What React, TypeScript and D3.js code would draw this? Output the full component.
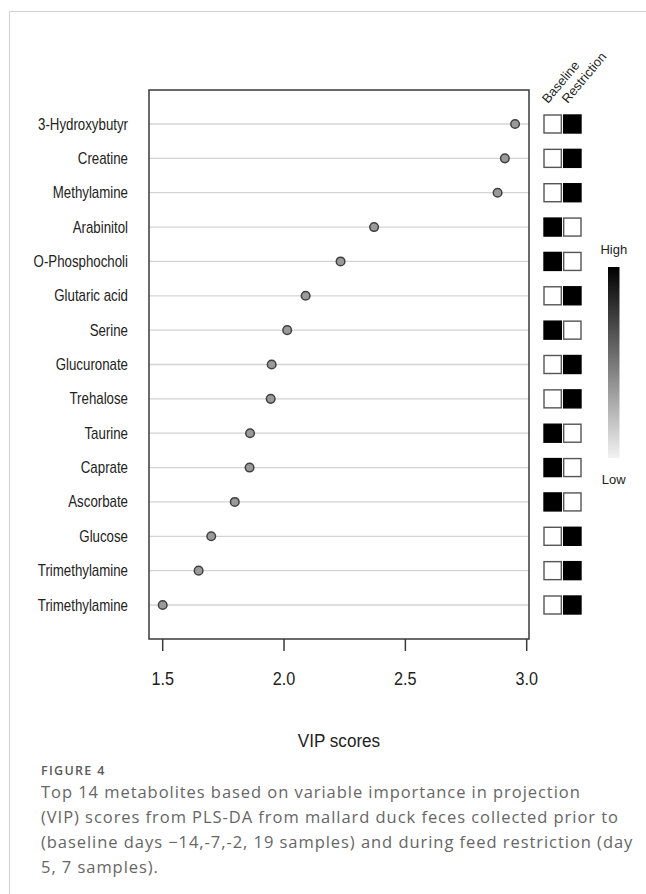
import React from "react";
import * as d3 from "d3";

// metabolites, top to bottom
const metabolites = [
  "3-Hydroxybutyr",
  "Creatine",
  "Methylamine",
  "Arabinitol",
  "O-Phosphocholi",
  "Glutaric acid",
  "Serine",
  "Glucuronate",
  "Trehalose",
  "Taurine",
  "Caprate",
  "Ascorbate",
  "Glucose",
  "Trimethylamine",
  "Trimethylamine",
];
const vipScores = [2.952, 2.91, 2.88, 2.371, 2.233, 2.089, 2.013, 1.949, 1.945, 1.86, 1.858, 1.797, 1.7, 1.648, 1.5];
// 1 = high (black), 0 = low (white)
const baselineLevel = [0, 0, 0, 1, 1, 0, 1, 0, 0, 1, 1, 1, 0, 0, 0];
const restrictionLevel = [1, 1, 1, 0, 0, 1, 0, 1, 1, 0, 0, 0, 1, 1, 1];
const groups = ["Baseline", "Restriction"];
const xTicks = [1.5, 2.0, 2.5, 3.0];

const captionLines = [
  "Top 14 metabolites based on variable importance in projection",
  "(VIP) scores from PLS-DA from mallard duck feces collected prior to",
  "(baseline days \u221214,-7,-2, 19 samples) and during feed restriction (day",
  "5, 7 samples).",
];

const W = 646;
const H = 894;
const panel = { left: 149, right: 529, top: 90, bottom: 639 };

export default function App() {
  const x = d3.scaleLinear().domain([1.5, 3.0]).range([162.7, 526.7]);
  const y = d3
    .scalePoint<number>()
    .domain(d3.range(metabolites.length))
    .range([124, 605]);
  const gx = d3.scaleBand().domain(groups).range([544, 581]).paddingInner(0.12);
  const shade = d3.scaleLinear<string>().domain([0, 1]).range(["#ffffff", "#000000"]);
  const levels = [baselineLevel, restrictionLevel];
  const boxH = 18;

  const cbar = { x: 608, w: 11.5, top: 267, bottom: 458 };

  return (
    <svg
      width={W}
      height={H}
      style={{ position: "absolute", left: 0, top: 0, background: "#fff" }}
      fontFamily="'Liberation Sans', Arial, sans-serif"
    >
      <defs>
        <linearGradient id="hl" x1="0" y1="0" x2="0" y2="1">
          <stop offset="0%" stopColor="#000" />
          <stop offset="50%" stopColor="#777" />
          <stop offset="100%" stopColor="#f2f2f2" />
        </linearGradient>
      </defs>

      {/* card border */}
      <line x1={9.5} x2={W} y1={11.5} y2={11.5} stroke="#cfcfcf" />
      <line x1={9.5} x2={9.5} y1={11.5} y2={H} stroke="#cfcfcf" />

      {/* grid lines */}
      {metabolites.map((m, i) => (
        <line
          key={"g" + i}
          x1={panel.left}
          x2={panel.right}
          y1={y(i)}
          y2={y(i)}
          stroke="#d4d4d4"
          strokeWidth={1.3}
        />
      ))}

      {/* panel box */}
      <rect
        x={panel.left}
        y={panel.top}
        width={panel.right - panel.left}
        height={panel.bottom - panel.top}
        fill="none"
        stroke="#3a3a3a"
        strokeWidth={1.5}
      />

      {/* dots */}
      {vipScores.map((v, i) => (
        <circle key={"d" + i} cx={x(v)} cy={y(i)} r={4.3} fill="#9a9a9a" stroke="#404040" strokeWidth={1.5} />
      ))}

      {/* y labels */}
      {metabolites.map((m, i) => (
        <text
          key={"l" + i}
          transform={`translate(128,${y(i)! + 5.5}) scale(0.83,1)`}
          textAnchor="end"
          fontSize={16}
          fill="#222"
        >
          {m}
        </text>
      ))}

      {/* x axis */}
      {xTicks.map((t) => (
        <g key={"t" + t}>
          <line x1={x(t)} x2={x(t)} y1={panel.bottom} y2={panel.bottom + 12} stroke="#3a3a3a" strokeWidth={1.5} />
          <text
            transform={`translate(${x(t)},685) scale(0.9,1)`}
            textAnchor="middle"
            fontSize={18}
            fill="#222"
          >
            {d3.format(".1f")(t)}
          </text>
        </g>
      ))}
      <text
        transform={`translate(${(panel.left + panel.right) / 2},747) scale(0.9,1)`}
        textAnchor="middle"
        fontSize={19}
        fill="#222"
      >
        VIP scores
      </text>

      {/* group boxes */}
      {groups.map((g, gi) =>
        levels[gi].map((lv, i) => (
          <rect
            key={g + i}
            x={gx(g)!}
            y={y(i)! - boxH / 2}
            width={gx.bandwidth()}
            height={boxH}
            fill={shade(lv)}
            stroke={lv ? "#000" : "#555"}
            strokeWidth={1.4}
          />
        ))
      )}
      {groups.map((g) => (
        <text
          key={"h" + g}
          transform={`translate(${gx(g)! + 4},104) rotate(-50)`}
          fontSize={13}
          fill="#222"
        >
          {g}
        </text>
      ))}

      {/* colour key */}
      <rect x={cbar.x} y={cbar.top} width={cbar.w} height={cbar.bottom - cbar.top} fill="url(#hl)" />
      <text x={cbar.x + cbar.w / 2} y={254} textAnchor="middle" fontSize={13} fill="#222">
        High
      </text>
      <text x={cbar.x + cbar.w / 2} y={484} textAnchor="middle" fontSize={13} fill="#222">
        Low
      </text>

      {/* caption */}
      <text
        x={41}
        y={775}
        fontFamily="'Open Sans', sans-serif"
        fontWeight={600}
        fontSize={12.5}
        letterSpacing={1.3}
        fill="#5a5a5a"
      >
        FIGURE 4
      </text>
      {captionLines.map((line, i) => (
        <text
          key={"c" + i}
          x={41}
          y={798 + i * 25}
          fontFamily="'Open Sans', sans-serif"
          fontSize={16.5}
          letterSpacing={0.95}
          fill="#666"
        >
          {line}
        </text>
      ))}
    </svg>
  );
}
